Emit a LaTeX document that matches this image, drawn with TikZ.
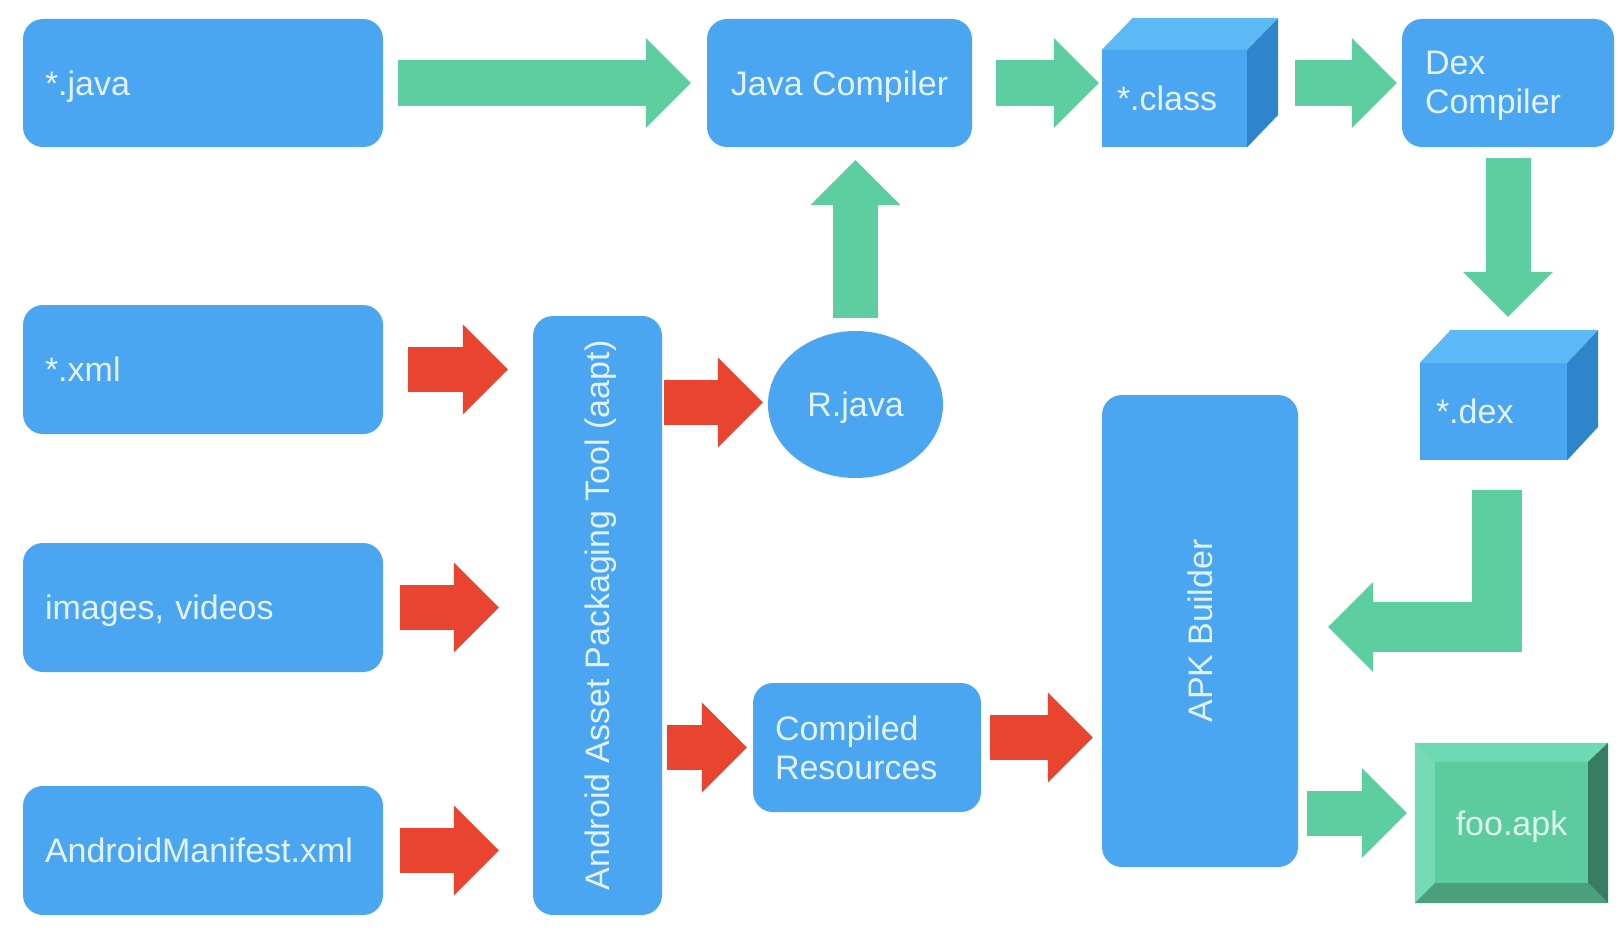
\documentclass[tikz,border=0pt]{standalone}
\usepackage{fontspec}
\setmainfont{Liberation Sans}
\usetikzlibrary{arrows.meta,shapes.geometric}
\definecolor{boxblue}{HTML}{4AA6F0}
\definecolor{cubetop}{HTML}{5DB9F6}
\definecolor{cubeside}{HTML}{2F85CC}
\definecolor{arrowgreen}{HTML}{5DCE9F}
\definecolor{arrowred}{HTML}{E8442F}
\definecolor{txt}{HTML}{E4F2FE}
\definecolor{apktxt}{HTML}{DDF7EE}
\definecolor{apkface}{HTML}{5CCB9E}
\definecolor{apktop}{HTML}{6FD9B3}
\definecolor{apkleft}{HTML}{76DAB7}
\definecolor{apkright}{HTML}{387C61}
\definecolor{apkbottom}{HTML}{4A9F7D}
\begin{document}
\begin{tikzpicture}[x=1pt,y=-1pt,
  lbl/.style={text=txt, font=\fontsize{34}{39}\selectfont, inner sep=0pt, text depth=0pt},
  box/.style={lbl, fill=boxblue, draw=none, rounded corners=20pt},
  leftbox/.style={box, text width=#1, align=left},
  twoline/.style={text depth={}},
  cubefront/.style={lbl, fill=boxblue, text width=#1, align=left},
  fat/.style={line width=45pt, -{Triangle[length=45pt,width=90pt,line width=0pt]}},
  garrow/.style={fat, draw=arrowgreen},
  rarrow/.style={fat, draw=arrowred}]
\useasboundingbox[fill=white] (0,0) rectangle (1622,942);

% top row
\node[leftbox=316pt, minimum width=360pt, minimum height=128pt] (java) at (203,83) {*.java};
\node[box, minimum width=265pt, minimum height=128pt] (jc) at (839.5,83) {Java Compiler};
\node[cubefront=115pt, minimum width=145pt, minimum height=97pt] (cls) at (1174.5,98.5) {*.class};
\fill[cubetop] (cls.north west) -- ++(31,-32) -- ++(145,0) -- (cls.north east) -- cycle;
\fill[cubeside] (cls.north east) -- ++(31,-32) -- ++(0,97) -- (cls.south east) -- cycle;
\node[leftbox=166pt, twoline, minimum width=212pt, minimum height=128pt] (dexc) at (1508,83) {\rule{0pt}{30pt}Dex\\Compiler};

% dex cube
\node[cubefront=115pt, minimum width=147pt, minimum height=97pt] (dexcube) at (1493.5,411.5) {*.dex};
\fill[cubetop] (dexcube.north west) -- ++(31,-33) -- ++(147,0) -- (dexcube.north east) -- cycle;
\fill[cubeside] (dexcube.north east) -- ++(31,-33) -- ++(0,97) -- (dexcube.south east) -- cycle;

% left column
\node[leftbox=316pt, minimum width=360pt, minimum height=129pt] (xml) at (203,369.5) {*.xml};
\node[leftbox=316pt, minimum width=360pt, minimum height=129pt] (img) at (203,607.5) {images, videos};
\node[leftbox=316pt, minimum width=360pt, minimum height=129pt] (man) at (203,850.5) {AndroidManifest.xml};

% aapt
\node[box, rotate=90, minimum width=599pt, minimum height=129pt] (aapt) at (597.5,615.5) {Android Asset Packaging Tool (aapt)};

% R.java
\node[lbl, ellipse, fill=boxblue, minimum width=175pt, minimum height=147pt] (rj) at (855.5,404.5) {R.java};

% Compiled resources
\node[leftbox=184pt, twoline, minimum width=228pt, minimum height=129pt] (cr) at (867,747.5) {Compiled\\Resources};

% APK builder
\node[box, rotate=90, minimum width=472pt, minimum height=196pt] (apk) at (1200,631) {APK Builder};

% foo.apk
\node[lbl, text=apktxt, fill=apkface, minimum width=193pt, minimum height=160pt] (foo) at (1511.5,823) {foo.apk};
\fill[apktop] (foo.north west) -- (foo.north east) -- ([shift={(-20,19)}]foo.north east) -- ([shift={(20,19)}]foo.north west) -- cycle;
\fill[apkleft] (foo.north west) -- ([shift={(20,19)}]foo.north west) -- ([shift={(20,-20)}]foo.south west) -- (foo.south west) -- cycle;
\fill[apkright] (foo.north east) -- ([shift={(-20,19)}]foo.north east) -- ([shift={(-20,-20)}]foo.south east) -- (foo.south east) -- cycle;
\fill[apkbottom] (foo.south west) -- ([shift={(20,-20)}]foo.south west) -- ([shift={(-20,-20)}]foo.south east) -- (foo.south east) -- cycle;

% green arrows
\draw[garrow] ([xshift=15pt]java.east) -- ([xshift=-16pt]jc.west);
\draw[garrow] ([xshift=24pt]jc.east) -- ([xshift=-3pt]cls.west |- jc.east);
\draw[garrow] ([xshift=48pt]cls.east |- jc.east) -- ([xshift=-5pt]dexc.west);
\draw[garrow] ([yshift=-11pt]dexc.south) -- ([yshift=46pt]dexc.south |- dexcube.north);
\draw[garrow, line width=50pt] ([shift={(3,30)}]dexcube.south) |- ([shift={(30,-4)}]apk.south);
\draw[garrow] ([yshift=13pt]rj.north) -- ([yshift=-13pt]rj.north |- jc.south);
\draw[garrow] ([shift={(9,-10)}]apk.south |- foo.west) -- ([shift={(-8,-10)}]foo.west);

% red arrows
\draw[rarrow] ([xshift=25pt]xml.east) -- ([xshift=-25pt]aapt.north |- xml.east);
\draw[rarrow] ([xshift=17pt]img.east) -- ([xshift=-34pt]aapt.north |- img.east);
\draw[rarrow] ([xshift=17pt]man.east) -- ([xshift=-34pt]aapt.north |- man.east);
\draw[rarrow] ([shift={(2,-2)}]aapt.south |- rj.west) -- ([shift={(-5,-2)}]rj.west);
\draw[rarrow] ([xshift=5pt]aapt.south |- cr.west) -- ([xshift=-6pt]cr.west);
\draw[rarrow] ([shift={(9,-10)}]cr.east) -- ([shift={(-9,-10)}]apk.north |- cr.east);
\end{tikzpicture}
\end{document}
